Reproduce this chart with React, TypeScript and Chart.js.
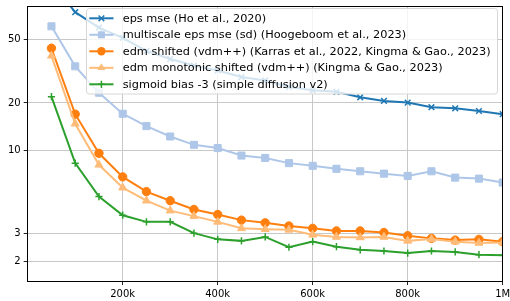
import React, { useEffect, useRef } from 'react';
import { Chart, registerables } from 'chart.js';

Chart.register(...registerables);

// ---- data ----
const steps = [
  50000, 100000, 150000, 200000, 250000, 300000, 350000, 400000, 450000, 500000,
  550000, 600000, 650000, 700000, 750000, 800000, 850000, 900000, 950000, 1000000,
];
const epsMse = [115, 74.5, 59.6, 51.4, 42.5, 37.8, 34.4, 32.0, 29.1, 27.7, 25.2, 24.0, 23.5, 21.7, 20.6, 20.1, 18.8, 18.5, 17.8, 17.0];
const multiscaleEpsMse = [60.7, 34.0, 23.2, 17.1, 14.3, 12.3, 10.9, 10.4, 9.33, 9.01, 8.36, 8.04, 7.7, 7.43, 7.18, 6.95, 7.43, 6.78, 6.68, 6.31];
const edmShifted = [44.2, 17.0, 9.64, 6.85, 5.53, 4.85, 4.27, 3.97, 3.66, 3.52, 3.36, 3.25, 3.13, 3.13, 3.06, 2.92, 2.81, 2.74, 2.77, 2.68];
const edmMonotonic = [39.6, 14.8, 8.16, 5.86, 4.85, 4.2, 3.88, 3.57, 3.25, 3.21, 3.18, 2.96, 2.87, 2.85, 2.87, 2.71, 2.78, 2.68, 2.63, 2.65];
const sigmoidBias = [21.9, 8.36, 5.15, 3.93, 3.57, 3.57, 3.03, 2.77, 2.71, 2.87, 2.47, 2.68, 2.49, 2.38, 2.34, 2.27, 2.34, 2.31, 2.22, 2.2];

const seriesLabels = [
  'eps mse (Ho et al., 2020)',
  'multiscale eps mse (sd) (Hoogeboom et al., 2023)',
  'edm shifted (vdm++) (Karras et al., 2022, Kingma & Gao., 2023)',
  'edm monotonic shifted (vdm++) (Kingma & Gao., 2023)',
  'sigmoid bias -3 (simple diffusion v2)',
];
const seriesValues = [epsMse, multiscaleEpsMse, edmShifted, edmMonotonic, sigmoidBias];
const seriesColors = ['#1f77b4', '#aec7e8', '#ff7f0e', '#ffbb78', '#2ca02c'];
const seriesMarkers = ['crossRot', 'rect', 'circle', 'triangle', 'cross'];
const markerRadii = [4, 5, 4.2, 4.6, 3.6];

const xTicks = [200000, 400000, 600000, 800000, 1000000];
const xTickLabels = ['200k', '400k', '600k', '800k', '1M'];
const yTicks = [2, 3, 10, 20, 50];
const yTickLabels = ['2', '3', '10', '20', '50'];

const FONT = "'DejaVu Sans', sans-serif";

function drawMarker(ctx: CanvasRenderingContext2D, style: string, x: number, y: number, r: number, color: string) {
  ctx.save();
  ctx.strokeStyle = color;
  ctx.fillStyle = color;
  ctx.lineWidth = 1.5;
  ctx.beginPath();
  if (style === 'circle') {
    ctx.arc(x, y, r, 0, Math.PI * 2);
    ctx.fill();
  } else if (style === 'rect') {
    const s = Math.SQRT1_2 * r;
    ctx.rect(x - s, y - s, 2 * s, 2 * s);
    ctx.fill();
  } else if (style === 'triangle') {
    ctx.moveTo(x, y - r);
    ctx.lineTo(x + r * Math.cos(Math.PI / 6), y + r * 0.5);
    ctx.lineTo(x - r * Math.cos(Math.PI / 6), y + r * 0.5);
    ctx.closePath();
    ctx.fill();
  } else if (style === 'cross') {
    ctx.moveTo(x - r, y);
    ctx.lineTo(x + r, y);
    ctx.moveTo(x, y - r);
    ctx.lineTo(x, y + r);
    ctx.stroke();
  } else if (style === 'crossRot') {
    const d = r * Math.SQRT1_2;
    ctx.moveTo(x - d, y - d);
    ctx.lineTo(x + d, y + d);
    ctx.moveTo(x + d, y - d);
    ctx.lineTo(x - d, y + d);
    ctx.stroke();
  }
  ctx.restore();
}

const spinesPlugin = {
  id: 'spines',
  afterDatasetsDraw(chart: any) {
    const { ctx, chartArea } = chart;
    const l = Math.floor(chartArea.left) + 0.5;
    const r = Math.floor(chartArea.right) + 0.5;
    const t = Math.floor(chartArea.top) + 0.5;
    const b = Math.floor(chartArea.bottom) + 0.5;
    ctx.save();
    ctx.strokeStyle = '#000';
    ctx.lineWidth = 1;
    ctx.strokeRect(l, t, r - l, b - t);
    ctx.restore();
  },
};

const legendPlugin = {
  id: 'boxLegend',
  afterDraw(chart: any) {
    const ctx: CanvasRenderingContext2D = chart.ctx;
    const x0 = 86.5, y0 = 8.5, w = 411, h = 85.5, rad = 3;
    ctx.save();
    ctx.beginPath();
    ctx.moveTo(x0 + rad, y0);
    ctx.lineTo(x0 + w - rad, y0);
    ctx.quadraticCurveTo(x0 + w, y0, x0 + w, y0 + rad);
    ctx.lineTo(x0 + w, y0 + h - rad);
    ctx.quadraticCurveTo(x0 + w, y0 + h, x0 + w - rad, y0 + h);
    ctx.lineTo(x0 + rad, y0 + h);
    ctx.quadraticCurveTo(x0, y0 + h, x0, y0 + h - rad);
    ctx.lineTo(x0, y0 + rad);
    ctx.quadraticCurveTo(x0, y0, x0 + rad, y0);
    ctx.closePath();
    ctx.fillStyle = 'rgba(255,255,255,0.8)';
    ctx.fill();
    ctx.strokeStyle = '#d6d6d6';
    ctx.lineWidth = 1;
    ctx.stroke();

    chart.data.datasets.forEach((ds: any, i: number) => {
      const cy = 18.3 + i * 16.5;
      ctx.beginPath();
      ctx.strokeStyle = ds.borderColor;
      ctx.lineWidth = 2;
      ctx.moveTo(89.3, cy);
      ctx.lineTo(113.5, cy);
      ctx.stroke();
      drawMarker(ctx, ds.pointStyle, 101.4, cy, ds.pointRadius, ds.borderColor);
      ctx.fillStyle = '#000';
      ctx.font = `11.3px ${FONT}`;
      ctx.textBaseline = 'middle';
      ctx.textAlign = 'left';
      ctx.fillText(ds.label, 122.7, cy + 0.5);
    });
    ctx.restore();
  },
};

export default function App() {
  const ref = useRef<HTMLCanvasElement | null>(null);

  useEffect(() => {
    document.body.style.margin = '0';
    const canvas = ref.current;
    if (!canvas) return;

    const datasets = seriesLabels.map((label, i) => ({
      label,
      data: steps.map((s, j) => ({ x: s, y: seriesValues[i][j] })),
      borderColor: seriesColors[i],
      backgroundColor: seriesColors[i],
      pointBackgroundColor: seriesColors[i],
      pointBorderColor: seriesColors[i],
      pointStyle: seriesMarkers[i],
      pointRadius: markerRadii[i],
      pointBorderWidth: seriesMarkers[i] === 'cross' || seriesMarkers[i] === 'crossRot' ? 1.5 : 1,
      borderWidth: 2,
      tension: 0,
      fill: false,
      order: seriesLabels.length - i,
    }));

    const chart = new Chart(canvas, {
      type: 'line',
      data: { datasets },
      plugins: [spinesPlugin, legendPlugin],
      options: {
        animation: false,
        responsive: false,
        maintainAspectRatio: false,
        layout: { padding: { left: 0, top: 1, right: 7.3, bottom: 0 } },
        plugins: {
          legend: { display: false },
          tooltip: { enabled: false },
        },
        scales: {
          x: {
            type: 'linear',
            min: 0,
            max: 1000000,
            afterBuildTicks: (scale: any) => {
              scale.ticks = xTicks.map((v) => ({ value: v }));
            },
            afterFit: (scale: any) => {
              scale.height = 20;
              scale.paddingLeft = 0;
              scale.paddingRight = 0;
            },
            grid: {
              color: '#c8c8c8',
              lineWidth: 1,
              tickLength: 4,
              tickColor: '#222',
              drawTicks: true,
            },
            border: { display: false },
            ticks: {
              autoSkip: false,
              maxRotation: 0,
              padding: 3,
              color: '#000',
              font: { family: FONT, size: 10 },
              callback: (v: any) => {
                const k = xTicks.indexOf(Number(v));
                return k >= 0 ? xTickLabels[k] : '';
              },
            },
          },
          y: {
            type: 'logarithmic',
            min: 1.515,
            max: 81.5,
            afterBuildTicks: (scale: any) => {
              scale.ticks = yTicks.map((v) => ({ value: v }));
            },
            afterFit: (scale: any) => {
              scale.width = 27.7;
              scale.paddingTop = 0;
              scale.paddingBottom = 0;
            },
            grid: {
              color: '#c8c8c8',
              lineWidth: 1,
              tickLength: 4,
              tickColor: '#222',
              drawTicks: true,
            },
            border: { display: false },
            ticks: {
              autoSkip: false,
              padding: 3,
              color: '#000',
              font: { family: FONT, size: 10 },
              callback: (v: any) => {
                const k = yTicks.indexOf(Number(v));
                return k >= 0 ? yTickLabels[k] : '';
              },
            },
          },
        },
      } as any,
    });

    return () => {
      chart.destroy();
    };
  }, []);

  return <canvas ref={ref} width={510} height={301} style={{ display: 'block' }} />;
}
